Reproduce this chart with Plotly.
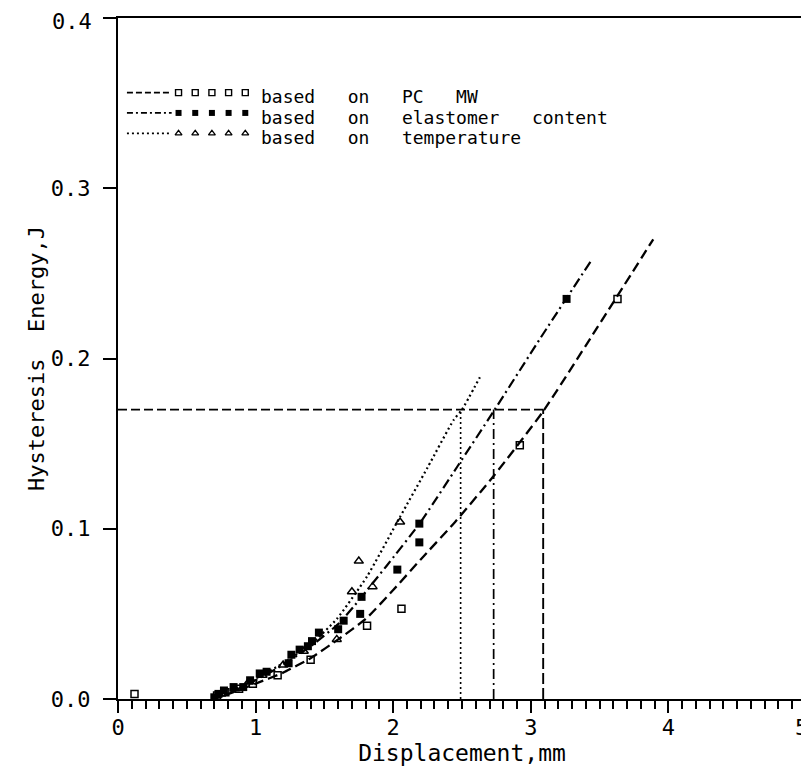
import plotly.graph_objects as go
import numpy as np

# ---------------- data ----------------
# fitted curves
pcmw_curve_x = [0.68, 0.8, 1.0, 1.2, 1.4, 1.6, 1.8, 2.0, 2.2, 2.45, 2.73, 3.09, 3.45, 3.89]
pcmw_curve_y = [0.0, 0.003, 0.009, 0.0155, 0.024, 0.035, 0.047, 0.064, 0.082, 0.104, 0.131, 0.169, 0.214, 0.270]

elast_curve_x = [0.68, 0.85, 1.0, 1.2, 1.4, 1.6, 1.71, 1.95, 2.2, 2.47, 2.73, 3.07, 3.435]
elast_curve_y = [0.0, 0.005, 0.011, 0.020, 0.031, 0.044, 0.054, 0.078, 0.104, 0.137, 0.169, 0.212, 0.257]

temp_curve_x = [0.68, 0.85, 1.0, 1.2, 1.4, 1.59, 1.81, 2.05, 2.25, 2.44, 2.5, 2.63]
temp_curve_y = [0.0, 0.005, 0.012, 0.021, 0.032, 0.047, 0.072, 0.107, 0.136, 0.164, 0.170, 0.189]

# measured points
pcmw_x = [0.12, 0.72, 0.78, 0.88, 0.98, 1.16, 1.40, 1.81, 2.06, 2.92, 3.63]
pcmw_y = [0.003, 0.002, 0.004, 0.006, 0.009, 0.014, 0.023, 0.043, 0.053, 0.149, 0.235]

elast_x = [0.70, 0.73, 0.77, 0.84, 0.91, 0.96, 1.03, 1.08, 1.24, 1.26, 1.32, 1.38,
           1.41, 1.46, 1.60, 1.64, 1.76, 1.77, 2.03, 2.19, 2.19, 3.26]
elast_y = [0.001, 0.003, 0.005, 0.007, 0.007, 0.011, 0.015, 0.016, 0.021, 0.026, 0.029, 0.031,
           0.034, 0.039, 0.041, 0.046, 0.050, 0.060, 0.076, 0.092, 0.103, 0.235]

temp_x = [0.75, 0.85, 0.95, 1.05, 1.20, 1.35, 1.59, 1.70, 1.75, 1.85, 2.05]
temp_y = [0.003, 0.006, 0.010, 0.014, 0.020, 0.028, 0.035, 0.063, 0.081, 0.066, 0.104]

# reference level and read-off displacements
energy_level = 0.17
readoff_x = {"temp": 2.49, "elast": 2.73, "pcmw": 3.09}

SP = "\u00a0\u00a0\u00a0"
legend_labels = ["based" + SP + "on" + SP + "PC" + SP + "MW",
                 "based" + SP + "on" + SP + "elastomer" + SP + "content",
                 "based" + SP + "on" + SP + "temperature"]

x_ticks = [0, 1, 2, 3, 4, 5]
y_ticks = [0.0, 0.1, 0.2, 0.3, 0.4]

# ---------------- styles ----------------
FONT = "DejaVu Sans Mono"
DASH = "10px,5px"
DASHDOT = "10px,4px,2px,4px"
DOT = "2px,3px"

fig = go.Figure()

# curves
fig.add_trace(go.Scatter(x=pcmw_curve_x, y=pcmw_curve_y, mode="lines",
                         line=dict(color="black", width=2.3, dash=DASH, shape="spline", smoothing=0.5)))
fig.add_trace(go.Scatter(x=elast_curve_x, y=elast_curve_y, mode="lines",
                         line=dict(color="black", width=2.2, dash=DASHDOT, shape="spline", smoothing=0.5)))
fig.add_trace(go.Scatter(x=temp_curve_x, y=temp_curve_y, mode="lines",
                         line=dict(color="black", width=2.2, dash=DOT, shape="spline", smoothing=0.5)))

# reference lines (through data coordinates)
fig.add_trace(go.Scatter(x=[0, readoff_x["pcmw"]], y=[energy_level, energy_level], mode="lines",
                         line=dict(color="black", width=1.8, dash="9px,4px")))
fig.add_trace(go.Scatter(x=[readoff_x["temp"]] * 2, y=[0, energy_level], mode="lines",
                         line=dict(color="black", width=1.6, dash=DOT)))
fig.add_trace(go.Scatter(x=[readoff_x["elast"]] * 2, y=[0, energy_level], mode="lines",
                         line=dict(color="black", width=1.7, dash=DASHDOT)))
fig.add_trace(go.Scatter(x=[readoff_x["pcmw"]] * 2, y=[0, energy_level], mode="lines",
                         line=dict(color="black", width=1.9, dash="11px,4px")))

# markers
fig.add_trace(go.Scatter(x=pcmw_x, y=pcmw_y, mode="markers",
                         marker=dict(symbol="square-open", size=7, color="black", line=dict(width=1.5))))
fig.add_trace(go.Scatter(x=elast_x, y=elast_y, mode="markers",
                         marker=dict(symbol="square", size=8, color="black")))
fig.add_trace(go.Scatter(x=temp_x, y=temp_y, mode="markers",
                         marker=dict(symbol="triangle-up-open", size=8, color="black", line=dict(width=1.5))))

# ---------------- custom legend (overlay axes in plot-area fractions) ----------------
text_y = [0.8844, 0.8546, 0.8245]
sample_y = [v + 0.006 for v in text_y]
line_x0, line_x1 = 0.013, 0.078
mk_x = list(np.linspace(0.088, 0.185, 5))
text_x = 0.205
leg_dash = ["6px,3px", "6px,3px,2px,3px", DOT]
leg_marker = [dict(symbol="square-open", size=6, color="black", line=dict(width=1.4)),
              dict(symbol="square", size=6, color="black"),
              dict(symbol="triangle-up-open", size=6, color="black", line=dict(width=1.3))]
for i in range(3):
    fig.add_trace(go.Scatter(x=[line_x0, line_x1], y=[sample_y[i]] * 2, mode="lines",
                             xaxis="x2", yaxis="y2",
                             line=dict(color="black", width=1.8, dash=leg_dash[i])))
    fig.add_trace(go.Scatter(x=mk_x, y=[sample_y[i]] * 5, mode="markers",
                             xaxis="x2", yaxis="y2", marker=leg_marker[i]))
    fig.add_annotation(x=text_x, y=text_y[i], xref="x2", yref="y2", text=legend_labels[i],
                       showarrow=False, xanchor="left", yanchor="middle",
                       font=dict(family=FONT, size=18, color="black"))

TICK_FONT = dict(family=FONT, size=22, color="black")
TITLE_FONT = dict(family=FONT, size=23, color="black")

# tick labels; the outermost ones sit at the figure edge and are placed as
# annotations nudged just inside the page
x_ticktext = [str(v) for v in x_ticks[:-1]] + [""]
y_ticktext = ["%.1f" % v for v in y_ticks[:-1]] + [""]
fig.add_annotation(x=x_ticks[-1], y=0, xref="x", yref="paper", text=str(x_ticks[-1]),
                   showarrow=False, xanchor="right", yanchor="middle",
                   xshift=3, yshift=-28, borderpad=0, font=TICK_FONT)
fig.add_annotation(x=0, y=y_ticks[-1], xref="paper", yref="y", text="%.1f" % y_ticks[-1],
                   showarrow=False, xanchor="right", yanchor="top",
                   xshift=-25, yshift=10, borderpad=0, font=TICK_FONT)

# the page body adds an 8px offset, so the figure is sized/marginated accordingly
fig.update_layout(
    width=801, height=768,
    margin=dict(l=110, r=3, t=10, b=77),
    paper_bgcolor="white", plot_bgcolor="white",
    showlegend=False,
    font=dict(family=FONT, size=22, color="black"),
    xaxis=dict(range=[0, 5], tickvals=x_ticks, ticktext=x_ticktext,
               automargin=False,
               showline=True, linecolor="black", linewidth=2, mirror=True,
               ticks="outside", ticklen=12, tickwidth=2, tickcolor="black",
               ticklabelstandoff=-4, tickfont=TICK_FONT,
               minor=dict(dtick=0.1, ticks="outside", ticklen=8, tickwidth=1.6, tickcolor="black"),
               showgrid=False, zeroline=False,
               title=dict(text="Displacement,mm", standoff=0, font=TITLE_FONT)),
    yaxis=dict(range=[0, 0.4], tickvals=y_ticks, ticktext=y_ticktext,
               automargin=False,
               showline=True, linecolor="black", linewidth=2, mirror=True,
               ticks="outside", ticklen=13, tickwidth=2, tickcolor="black",
               ticklabelstandoff=8, tickfont=TICK_FONT,
               showgrid=False, zeroline=False,
               title=dict(text="Hysteresis\u00a0\u00a0Energy,J", standoff=0,
                          font=dict(family=FONT, size=22, color="black"))),
    xaxis2=dict(range=[0, 1], overlaying="x", visible=False, anchor="y2"),
    yaxis2=dict(range=[0, 1], overlaying="y", visible=False, anchor="x2"),
)

fig.write_html("out.html")
